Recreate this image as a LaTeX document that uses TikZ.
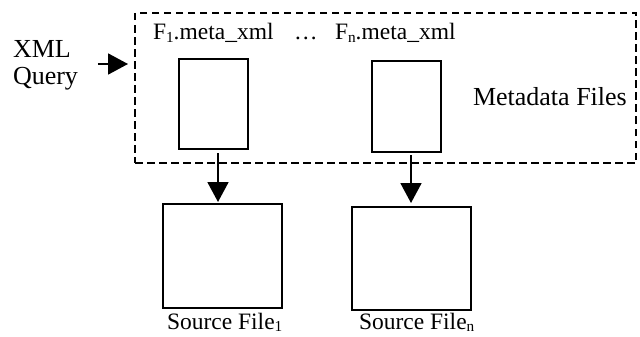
\documentclass[tikz,border=0pt]{standalone}
\usepackage{fontspec}
\setmainfont{Liberation Serif}
\usetikzlibrary{arrows.meta}
\newcommand\sbs[1]{\raisebox{-0.12em}{\fontsize{0.65em}{0.65em}\selectfont #1}}
\tikzset{
  box/.style={draw, line width=1.8pt, inner sep=0pt, outer sep=0pt, fill=white},
  dbox/.style={draw, line width=1.8pt, dash pattern=on 7.5pt off 4.5pt, inner sep=0pt, outer sep=0pt},
  arr/.style={line width=1.8pt, -{Triangle[length=20pt,width=21pt]}},
  txt/.style={inner sep=0pt, outer sep=0pt, font=\fontsize{25}{27}\selectfont},
  big/.style={font=\fontsize{26}{27}\selectfont},
  mid/.style={font=\fontsize{23.5}{27}\selectfont}
}
\begin{document}
\begin{tikzpicture}[x=1pt,y=-1pt]
\useasboundingbox (0,0) rectangle (640,337);
\fill[white] (0,0) rectangle (640,337);
% dashed metadata region
\node[dbox, minimum width=501pt, minimum height=150pt] (meta) at (385.5,88) {};
% metadata file boxes
\node[box, minimum width=69pt, minimum height=90pt] (f1) at (213.5,104) {};
\node[box, minimum width=69pt, minimum height=91pt] (fn) at (406.5,106.5) {};
% source file boxes
\node[box, minimum width=119pt, minimum height=104pt] (s1) at (222.5,256) {};
\node[box, minimum width=119pt, minimum height=103pt] (sn) at (411.5,258.5) {};
% texts
\node[txt, mid, anchor=base west] (t1) at (153,40) {F\sbs{1}.meta\_xml};
\node[txt, mid, anchor=base west] (dots) at (294,40) {…};
\node[txt, mid, anchor=base west] (tn) at (335,40) {F\sbs{n}.meta\_xml};
\node[txt, big, anchor=base west] (mf) at (473,105) {Metadata Files};
\node[txt, mid, anchor=base west] (ls1) at (167,329) {Source File\sbs{1}};
\node[txt, mid, anchor=base west] (lsn) at (359,329) {Source File\sbs{n}};
\node[txt, big, anchor=west, align=left] (xq) at (13,65) {XML\\Query};
% arrows
\draw[arr, shorten <=20pt, shorten >=7pt] (xq.east |- 0,64) -- (meta.west |- 0,64);
\draw[arr, shorten <=4pt, shorten >=2pt] ([xshift=4.5pt]f1.south) -- ([xshift=4.5pt]f1.south |- s1.north);
\draw[arr, shorten <=3pt, shorten >=4pt] ([xshift=-0.5pt]sn.north |- fn.south) -- ([xshift=-0.5pt]sn.north);
\end{tikzpicture}
\end{document}
